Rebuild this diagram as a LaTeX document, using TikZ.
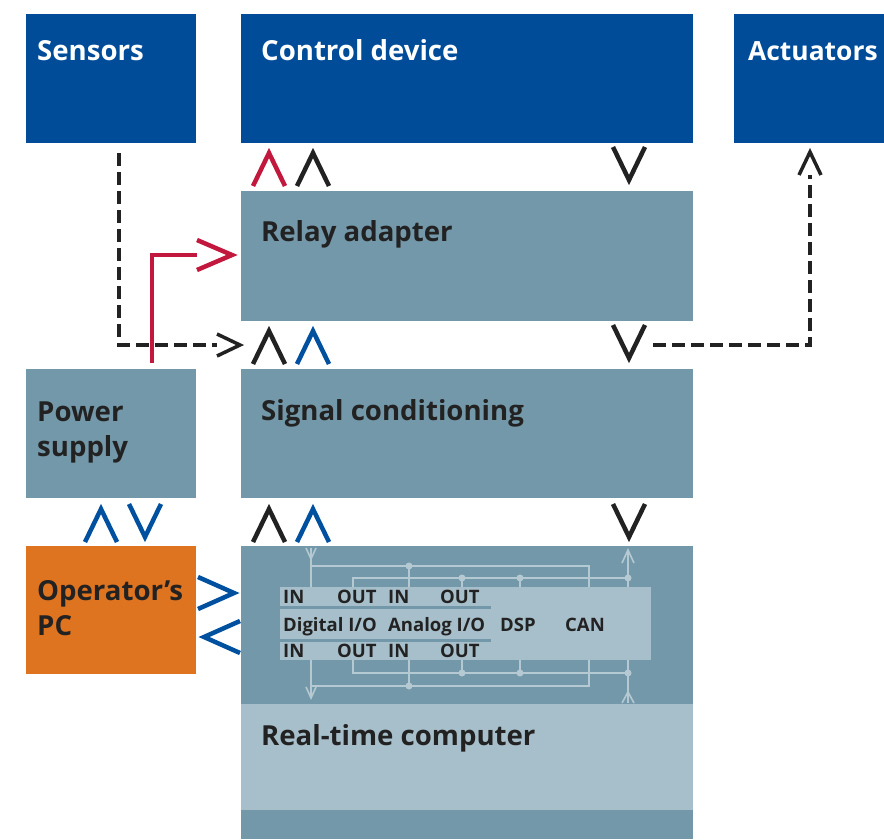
\documentclass[tikz,border=0pt]{standalone}
\usepackage{fontspec}
\setmainfont{Open Sans}
\definecolor{dblue}{HTML}{004C99}
\definecolor{gblue}{HTML}{7398A9}
\definecolor{lblue}{HTML}{A7BFCA}
\definecolor{orng}{HTML}{DE7320}
\definecolor{rred}{HTML}{C2183D}
\definecolor{cblue}{HTML}{0050A0}
\definecolor{ink}{HTML}{222222}
\definecolor{wire}{HTML}{B4C9D2}
\tikzset{
  box/.style={rectangle, inner sep=0pt, outer sep=0pt, anchor=north west, draw=none},
  big/.style={anchor=base west, inner sep=0pt, font=\fontsize{27.6}{34}\selectfont\bfseries},
  small/.style={anchor=base west, inner sep=0pt, text=ink, font=\fontsize{18.5}{22}\selectfont\bfseries},
  chev/.style={line width=4.5pt, line join=miter, miter limit=10, line cap=butt},
  chevu/.pic={\draw[chev] (-16,19) -- (0,-14) -- (16,19);},
  chevd/.pic={\draw[chev] (-16,-19) -- (0,14) -- (16,-19);},
  chevr/.pic={\draw[chev] (-21,-16) -- (15,0) -- (-21,16);},
  chevl/.pic={\draw[chev] (21,-16) -- (-15,0) -- (21,16);},
  dashline/.style={draw=ink, line width=4pt, dash pattern=on 13pt off 6pt},
  tip/.style={draw=ink, line width=3.5pt, line join=miter, miter limit=10},
  wireln/.style={draw=wire, line width=2pt},
  dot/.style={circle, fill=wire, inner sep=0pt, minimum size=7pt},
  wtip/.style={draw=wire, line width=1.6pt},
}
\begin{document}
\begin{tikzpicture}[x=1pt,y=-1pt]
\useasboundingbox (0,0) rectangle (884,839);

% blocks
\node[box, fill=dblue, minimum width=170pt, minimum height=129pt] (sens) at (26,14) {};
\node[box, fill=dblue, minimum width=452pt, minimum height=129pt] (ctrl) at (241,14) {};
\node[box, fill=dblue, minimum width=150pt, minimum height=129pt] (act) at (734,14) {};
\node[box, fill=gblue, minimum width=452pt, minimum height=130pt] (relay) at (241,191) {};
\node[box, fill=gblue, minimum width=452pt, minimum height=129pt] (sig) at (241,369) {};
\node[box, fill=gblue, minimum width=170pt, minimum height=129pt] (pow) at (26,369) {};
\node[box, fill=orng, minimum width=170pt, minimum height=128pt] (opc) at (26,546) {};
\node[box, fill=gblue, minimum width=452pt, minimum height=293pt] (rt) at (241,546) {};
\node[box, fill=lblue, minimum width=452pt, minimum height=106pt] (rtband) at (241,704) {};

% labels
\node[big, text=white] (senst) at (37,60) {Sensors};
\node[big, text=white] (ctrlt) at (261,60) {Control device};
\node[big, text=white, font=\fontsize{26.4}{34}\selectfont\bfseries] (actt) at (748,60) {Actuators};
\node[big, text=ink] (relayt) at (261,241) {Relay adapter};
\node[big, text=ink] (sigt) at (261,420) {Signal conditioning};
\node[big, text=ink] (powt1) at (37,421) {Power};
\node[big, text=ink] (powt2) at (37,456) {supply};
\node[big, text=ink] (opct1) at (37,600) {Operator’s};
\node[big, text=ink] (opct2) at (37,635) {PC};
\node[big, text=ink] (rtt) at (261,745) {Real-time computer};

% inner I/O panel
\node[box, fill=lblue, minimum width=371pt, minimum height=73pt] (panel) at (280,587) {};
\fill[gblue] (280,605.5) rectangle (491,609);
\fill[gblue] (280,638.5) rectangle (491,642);
\node[small] (in1) at (283,603) {IN};
\node[small] (out1) at (337,603) {OUT};
\node[small] (in2) at (388,603) {IN};
\node[small] (out2) at (440,603) {OUT};
\node[small] (dio) at (283,631) {Digital I/O};
\node[small] (aio) at (388,631) {Analog I/O};
\node[small] (dsp) at (500,631) {DSP};
\node[small] (can) at (565,631) {CAN};
\node[small] (in3) at (283,657) {IN};
\node[small] (out3) at (337,657) {OUT};
\node[small] (in4) at (388,657) {IN};
\node[small] (out4) at (440,657) {OUT};

% wiring (top)
\draw[wireln] (311,548) -- (311,587);
\draw[wtip] (306,548) -- (311,559) -- (316,548);
\draw[wireln] (311,566) -- (589,566) -- (589,587);
\draw[wireln] (409,566) -- (409,587);
\draw[wireln] (353,587) -- (353,578) -- (628,578);
\draw[wireln] (462,578) -- (462,587);
\draw[wireln] (520,578) -- (520,587);
\draw[wireln] (628,550) -- (628,587);
\draw[wtip] (622,563) -- (628,550) -- (634,563);
\node[dot] (t1) at (409,566) {};
\node[dot] (t2) at (462,578) {};
\node[dot] (t3) at (520,578) {};
\node[dot] (t4) at (628,578) {};
% wiring (bottom)
\draw[wireln] (311,660) -- (311,698);
\draw[wtip] (306,687) -- (311,698) -- (316,687);
\draw[wireln] (311,686) -- (589,686) -- (589,660);
\draw[wireln] (409,686) -- (409,660);
\draw[wireln] (353,660) -- (353,673) -- (628,673);
\draw[wireln] (462,673) -- (462,660);
\draw[wireln] (520,673) -- (520,660);
\draw[wireln] (628,660) -- (628,703);
\draw[wtip] (622,703) -- (628,692) -- (634,703);
\node[dot] (b1) at (409,686) {};
\node[dot] (b2) at (462,673) {};
\node[dot] (b3) at (520,673) {};
\node[dot] (b4) at (628,673) {};

% chevrons between blocks
\pic[rred] at (269,167) {chevu};
\pic[ink] at (313,167) {chevu};
\pic[ink] at (629,166) {chevd};
\pic[ink] at (269,345) {chevu};
\pic[cblue] at (313,345) {chevu};
\pic[ink] at (629,344) {chevd};
\pic[ink] at (269,523) {chevu};
\pic[cblue] at (313,523) {chevu};
\pic[ink] at (629,523) {chevd};
\pic[cblue] at (101,523) {chevu};
\pic[cblue] at (145,523) {chevd};
\pic[cblue] at (219,593) {chevr};
\pic[cblue] at (219,637) {chevl};

% dashed signal lines
\coordinate (sA) at (119,153);
\coordinate (sB) at (217,345);
\coordinate (sTip) at (240,345);
\draw[dashline] (sA) |- (sB);
\draw[tip] ([shift={(-23,-11)}]sTip) -- (sTip) -- ([shift={(-23,11)}]sTip);
\coordinate (aA) at (653,345);
\coordinate (aB) at (810,175);
\coordinate (aTip) at (810,152);
\draw[dashline] (aA) -| (aB);
\draw[tip] ([shift={(-11,23)}]aTip) -- (aTip) -- ([shift={(11,23)}]aTip);

% power line (red)
\coordinate (pA) at (152,363);
\coordinate (pB) at (197,255);
\coordinate (pTip) at (232,255);
\draw[rred, line width=4.5pt] (pA) |- (pB);
\draw[rred, chev] ([shift={(-35,-15)}]pTip) -- (pTip) -- ([shift={(-35,15)}]pTip);
\end{tikzpicture}
\end{document}
